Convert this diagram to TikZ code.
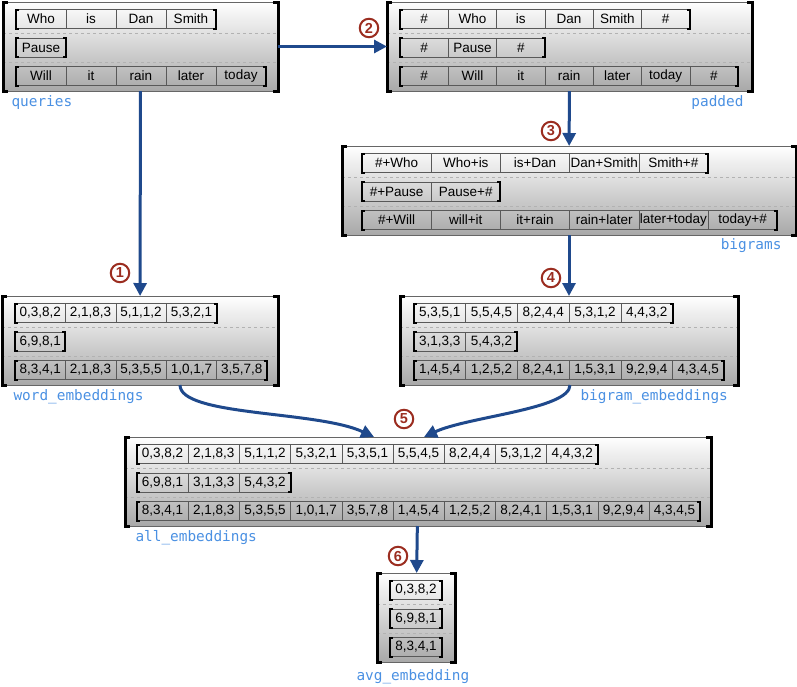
\documentclass[tikz,border=0pt]{standalone}
\usepackage{fontspec}
\setmainfont{Liberation Sans}
\newfontfamily\codefont{DejaVu Sans Mono}
\usetikzlibrary{arrows.meta,calc}

\definecolor{flow}{RGB}{31,73,140}
\definecolor{tagblue}{RGB}{74,144,226}
\definecolor{stepred}{RGB}{155,45,32}

% grey panel with bracket sides and dashed row separators
\newcommand{\drawpanel}[4]{%
  \node[panel, minimum width=#4, anchor=north west] (#1) at (#2,#3) {};
  \foreach \d in {31,60}
    \draw[rowsep] ([yshift=-\d]#1.north west) -- ([yshift=-\d]#1.north east);
  \draw[side] ([xshift=5]#1.north west) -- (#1.north west) -- (#1.south west) -- ([xshift=5]#1.south west);
  \draw[side] ([xshift=-5]#1.north east) -- (#1.north east) -- (#1.south east) -- ([xshift=-5]#1.south east);
}
% one bracketed row of cells: name, x0, y, cell width, items
\newcommand{\drawrow}[5]{%
  \foreach \w [count=\i] in {#5}{
    \node[cell, minimum width=#4] (#1-\i) at ({#2+(\i-0.5)*#4},#3) {\w};
    \xdef\lastcell{\i}
  }
  \draw[rowbrk] ([xshift=3]#1-1.north west) -- (#1-1.north west) -- (#1-1.south west) -- ([xshift=3]#1-1.south west);
  \draw[rowbrk] ([xshift=-3]#1-\lastcell.north east) -- (#1-\lastcell.north east) -- (#1-\lastcell.south east) -- ([xshift=-3]#1-\lastcell.south east);
}

\begin{document}
\begin{tikzpicture}[x=1pt,y=-1pt,
    panel/.style={rectangle, draw=black!60, line width=0.8pt, outer sep=0pt,
      minimum height=89, top color=white, bottom color=black!34},
    side/.style={line width=3pt, black},
    rowsep/.style={dashed, black!30, line width=0.6pt},
    cell/.style={rectangle, draw=black!65, line width=0.6pt, inner sep=0pt,
      outer sep=0pt, minimum height=19, font=\fontsize{13.5}{15}\selectfont},
    rowbrk/.style={line width=2pt, black},
    tag/.style={text=tagblue, font=\codefont\fontsize{14.4}{16}\selectfont},
    stepno/.style={circle, draw=stepred, line width=2pt, text=stepred,
      minimum size=18.5, inner sep=0pt, font=\bfseries\fontsize{14.5}{15}\selectfont},
    link/.style={flow, line width=3pt, -{Triangle[length=13pt,width=13pt]}}]
  \useasboundingbox (0,0) rectangle (797,686);

  % queries
  \drawpanel{queries}{3}{2}{275}
  \drawrow{qa}{16}{19}{50}{Who,is,Dan,Smith}
  \drawrow{qb}{16}{47.5}{50}{Pause}
  \drawrow{qc}{16}{76}{50}{Will,it,rain,later,today}
  \node[tag, anchor=west] (l_queries) at (8,103) {queries};

  % padded
  \drawpanel{padded}{387}{2}{365}
  \drawrow{pa}{400}{19}{48.3}{\#,Who,is,Dan,Smith,\#}
  \drawrow{pb}{400}{47.5}{48.3}{\#,Pause,\#}
  \drawrow{pc}{400}{76}{48.3}{\#,Will,it,rain,later,today,\#}
  \node[tag, anchor=east] (l_padded) at (747,103) {padded};

  % bigrams
  \drawpanel{bigrams}{342}{146}{454}
  \drawrow{ba}{362}{163}{69.2}{\#+Who,Who+is,is+Dan,Dan+Smith,Smith+\#}
  \drawrow{bb}{362}{191.5}{69.2}{\#+Pause,Pause+\#}
  \drawrow{bc}{362}{220}{69.2}{\#+Will,will+it,it+rain,rain+later,later+today,today+\#}
  \node[tag, anchor=east] (l_bigrams) at (785,246) {bigrams};

  % word embeddings
  \drawpanel{wemb}{2}{296}{276}
  \drawrow{wa}{15}{313}{50.4}{{0,3,8,2},{2,1,8,3},{5,1,1,2},{5,3,2,1}}
  \drawrow{wb}{15}{341.5}{50.4}{{6,9,8,1}}
  \drawrow{wc}{15}{370}{50.4}{{8,3,4,1},{2,1,8,3},{5,3,5,5},{1,0,1,7},{3,5,7,8}}
  \node[tag, anchor=west] (l_wemb) at (10,397) {word\_embeddings};

  % bigram embeddings
  \drawpanel{bemb}{400}{296}{338}
  \drawrow{ea}{414}{313}{51.7}{{5,3,5,1},{5,5,4,5},{8,2,4,4},{5,3,1,2},{4,4,3,2}}
  \drawrow{eb}{414}{341.5}{51.7}{{3,1,3,3},{5,4,3,2}}
  \drawrow{ec}{414}{370}{51.7}{{1,4,5,4},{1,2,5,2},{8,2,4,1},{1,5,3,1},{9,2,9,4},{4,3,4,5}}
  \node[tag, anchor=west] (l_bemb) at (577,397) {bigram\_embeddings};

  % all embeddings
  \drawpanel{allemb}{125}{437}{586}
  \drawrow{aa}{137}{454}{51.2}{{0,3,8,2},{2,1,8,3},{5,1,1,2},{5,3,2,1},{5,3,5,1},{5,5,4,5},{8,2,4,4},{5,3,1,2},{4,4,3,2}}
  \drawrow{ab}{137}{482.5}{51.2}{{6,9,8,1},{3,1,3,3},{5,4,3,2}}
  \drawrow{ac}{137}{511}{51.2}{{8,3,4,1},{2,1,8,3},{5,3,5,5},{1,0,1,7},{3,5,7,8},{1,4,5,4},{1,2,5,2},{8,2,4,1},{1,5,3,1},{9,2,9,4},{4,3,4,5}}
  \node[tag, anchor=west] (l_allemb) at (132,538) {all\_embeddings};

  % average embedding
  \drawpanel{avg}{377}{573}{78}
  \drawrow{va}{390}{590}{52}{{0,3,8,2}}
  \drawrow{vb}{390}{618.5}{52}{{6,9,8,1}}
  \drawrow{vc}{390}{647}{52}{{8,3,4,1}}
  \node[tag, anchor=west] (l_avg) at (353,677) {avg\_embedding};

  % steps
  \node[stepno] (s_1) at (120,273) {1};
  \node[stepno] (s_2) at (369,28)  {2};
  \node[stepno] (s_3) at (551,131) {3};
  \node[stepno] (s_4) at (551,278) {4};
  \node[stepno] (s_5) at (404,419) {5};
  \node[stepno] (s_6) at (398,556) {6};

  \path[link]
    (queries) edge (wemb)
    (queries) edge (padded)
    (padded)  edge (bigrams)
    (bigrams) edge (bemb)
    (allemb)  edge (avg);
  \draw[link] ([xshift=40]wemb.south) to[out=-90, in=155, out looseness=0.4, in looseness=0.8] ([xshift=-44]allemb.north);
  \draw[link] ([xshift=1]bemb.south) to[out=-90, in=25, out looseness=0.4, in looseness=0.8] ([xshift=6]allemb.north);
\end{tikzpicture}
\end{document}
